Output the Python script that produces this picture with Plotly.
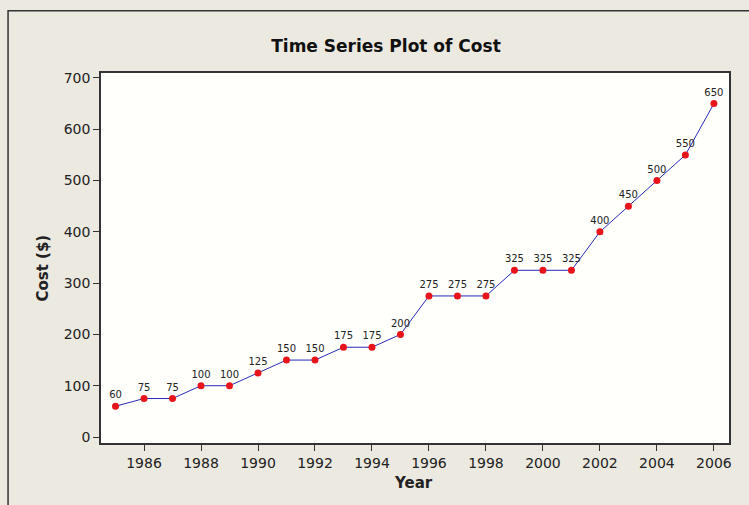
import plotly.graph_objects as go

years = list(range(1985, 2007))
cost = [60, 75, 75, 100, 100, 125, 150, 150, 175, 175, 200,
        275, 275, 275, 325, 325, 325, 400, 450, 500, 550, 650]
labels = [str(c) for c in cost]

fig = go.Figure()
fig.add_trace(go.Scatter(
    x=years, y=cost, mode="lines+markers+text",
    text=labels, textposition="top center",
    textfont=dict(family="DejaVu Sans", size=10, color="#222222"),
    line=dict(color="#2a2ab8", width=1),
    marker=dict(color="#e8141c", size=7),
    cliponaxis=False, showlegend=False,
))

fig.update_layout(
    width=749, height=505,
    margin=dict(l=101, r=20, t=73, b=62),
    paper_bgcolor="#ece9e0",
    plot_bgcolor="#fffffc",
    font=dict(family="DejaVu Sans", color="#222222"),
    title=dict(text="<b>Time Series Plot of Cost</b>", x=386 / 749, xanchor="center",
               y=1 - 46 / 505, yanchor="middle",
               font=dict(family="DejaVu Sans", size=17, color="#111111")),
    shapes=[dict(type="rect", xref="paper", yref="paper",
                 x0=-0.148, x1=1.1, y0=-0.3, y1=1.168,
                 line=dict(color="#333333", width=1.5), layer="below")],
    annotations=[
        dict(text="<b>Year</b>", xref="paper", yref="paper", x=0.497, y=-0.108,
             showarrow=False, font=dict(size=15), xanchor="center", yanchor="middle"),
        dict(text="<b>Cost ($)</b>", xref="paper", yref="paper", x=-0.093, y=0.473,
             showarrow=False, font=dict(size=15), textangle=-90,
             xanchor="center", yanchor="middle"),
    ],
)
fig.update_xaxes(
    range=[1984.49, 2006.53], tickvals=list(range(1986, 2007, 2)),
    ticks="outside", ticklen=6, tickcolor="#333333",
    showline=True, linecolor="#333333", linewidth=1.5, mirror=True,
    showgrid=False, zeroline=False, automargin=False,
    tickfont=dict(size=14),
)
fig.update_yaxes(
    range=[-11.7, 709.7], tickvals=list(range(0, 701, 100)),
    ticks="outside", ticklen=6, tickcolor="#333333",
    showline=True, linecolor="#333333", linewidth=1.5, mirror=True,
    showgrid=False, zeroline=False, automargin=False,
    tickfont=dict(size=14),
)

fig.write_html("out.html", config={"displayModeBar": False},
               post_script="document.body.style.margin='0';")
